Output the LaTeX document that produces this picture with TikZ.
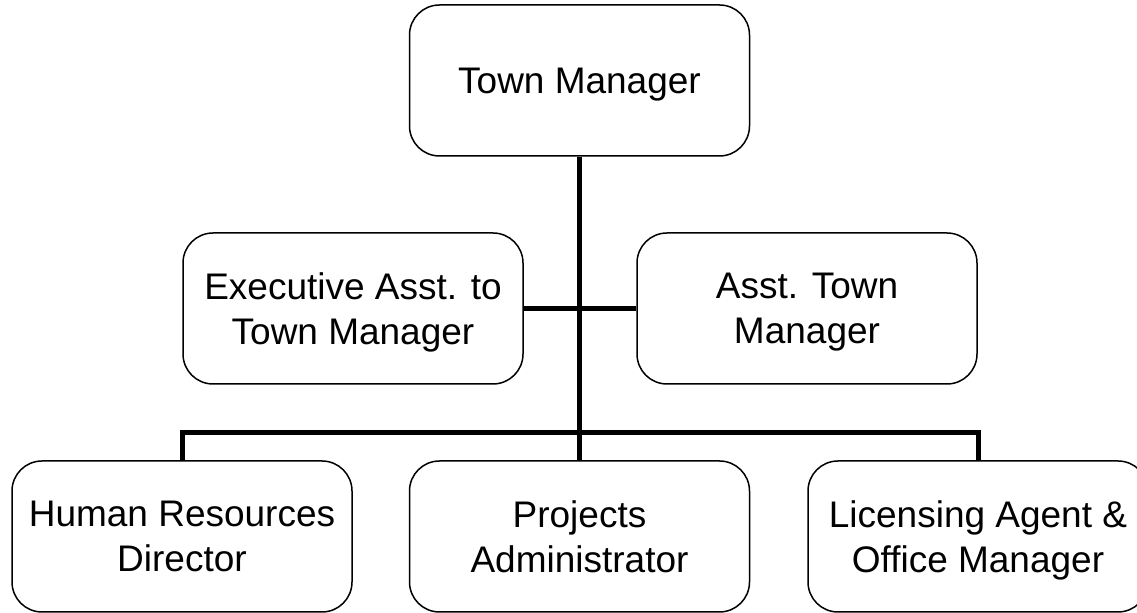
\documentclass[tikz,border=0pt]{standalone}
\usepackage{fontspec}
\setmainfont{Liberation Sans}
\usetikzlibrary{positioning}

\begin{document}
\begin{tikzpicture}[x=0.5pt, y=-0.5pt,
    office/.style={draw, rounded corners=15pt, line width=0.75pt, align=center,
        minimum width=170pt, minimum height=75.5pt, inner sep=0pt,
        text depth=-1pt,
        font=\fontsize{18.5}{22.5}\selectfont},
    link/.style={line width=2.5pt}]
    % Fix the page to the reference size
    \useasboundingbox (0,0) rectangle (1137,613);

    % Top of the chart
    \node[office] (tm) at (579.5,80.5) {Town Manager};

    % Staff row
    \node[office] (exec) at (353,308.5) {Executive Asst. to\\Town Manager};
    \node[office] (asst) at (807,308.5) {Asst. Town\\Manager};

    % Department row
    \node[office] (hr) at (182,536.5) {Human Resources\\Director};
    \node[office] (proj) at (579.5,536.5) {Projects\\Administrator};
    \node[office] (lic) at (978,536.5) {Licensing Agent \&\\Office Manager};

    % Connectors
    \draw[link] (tm.south) -- (proj.north);
    \draw[link] (exec.east) -- (asst.west);
    \draw[link] (hr.north) -- ++(0,-28) -| (lic.north);
\end{tikzpicture}
\end{document}
